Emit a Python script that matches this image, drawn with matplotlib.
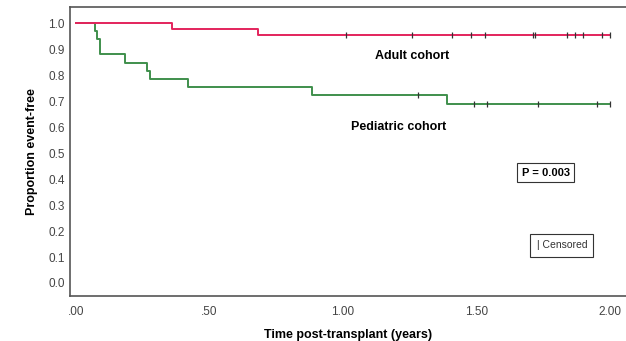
import numpy as np
import matplotlib.pyplot as plt

plt.rcParams['font.family'] = ['Liberation Sans', 'DejaVu Sans']

# Adult cohort: step times and survival after each step
adult_t = [0.0, 0.36, 0.68]
adult_s = [1.0, 0.977, 0.953]
adult_cens = [1.01, 1.26, 1.41, 1.48, 1.53, 1.71, 1.72, 1.84, 1.87, 1.90, 1.97, 2.0]

# Pediatric cohort
ped_t = [0.0, 0.07, 0.08, 0.09, 0.184, 0.265, 0.277, 0.42, 0.885, 1.39]
ped_s = [1.0, 0.97, 0.94, 0.88, 0.846, 0.815, 0.785, 0.754, 0.722, 0.69]
ped_cens = [1.28, 1.49, 1.54, 1.73, 1.95, 2.0]

x_ticks = [0.0, 0.5, 1.0, 1.5, 2.0]
x_labels = ['.00', '.50', '1.00', '1.50', '2.00']
y_ticks = np.arange(0, 11) / 10

t_end = 2.0


def curve(times, surv):
    x = list(times) + [t_end]
    y = list(surv) + [surv[-1]]
    return x, y


def at(times, surv, t):
    idx = np.searchsorted(times, t, side='right') - 1
    return surv[idx]


fig = plt.figure(figsize=(6.26, 3.41), dpi=100)
ax = fig.add_axes([0.112, 0.132, 0.888, 0.847])

red = '#e3245c'
green = '#3f8f4c'

# pediatric first so the adult line sits on top at 1.0
x, y = curve(ped_t, ped_s)
ax.step(x, y, where='post', color=green, lw=1.4)
ax.plot(ped_cens, [at(ped_t, ped_s, c) for c in ped_cens], ls='none',
        marker='|', ms=5, mew=0.9, color='#333333')

x, y = curve(adult_t, adult_s)
ax.step(x, y, where='post', color=red, lw=1.4)
ax.plot(adult_cens, [at(adult_t, adult_s, c) for c in adult_cens], ls='none',
        marker='|', ms=5, mew=0.9, color='#333333')

ax.set_xlim(-0.0225, 2.06)
ax.set_ylim(-0.05, 1.0615)
ax.set_xticks(x_ticks)
ax.set_xticklabels(x_labels)
ax.set_yticks(y_ticks)
ax.set_yticklabels([f'{v:.1f}' for v in y_ticks])
ax.tick_params(length=0, labelsize=8.5, labelcolor='#444444', pad=4)
ax.tick_params(axis='x', pad=7)

for s in ['left', 'bottom', 'top']:
    ax.spines[s].set_color('#555555')
    ax.spines[s].set_linewidth(1.2)
ax.spines['right'].set_visible(False)

ax.set_xlabel('Time post-transplant (years)', fontsize=9, fontweight='bold', labelpad=8)
ax.set_ylabel('Proportion event-free', fontsize=9, fontweight='bold', labelpad=7)

ax.text(1.26, 0.875, 'Adult cohort', fontsize=9, fontweight='bold', ha='center', va='center')
ax.text(1.21, 0.6, 'Pediatric cohort', fontsize=9, fontweight='bold', ha='center', va='center')
ax.text(1.76, 0.425, 'P = 0.003', fontsize=8, fontweight='bold', ha='center', va='center',
        bbox=dict(boxstyle='square,pad=0.4', fc='white', ec='#333333', lw=0.8))
ax.text(1.82, 0.145, '| Censored', fontsize=7.5, ha='center', va='center', color='#333333',
        bbox=dict(boxstyle='square,pad=0.6', fc='white', ec='#333333', lw=0.8))

fig.savefig('out.png', dpi=100)
